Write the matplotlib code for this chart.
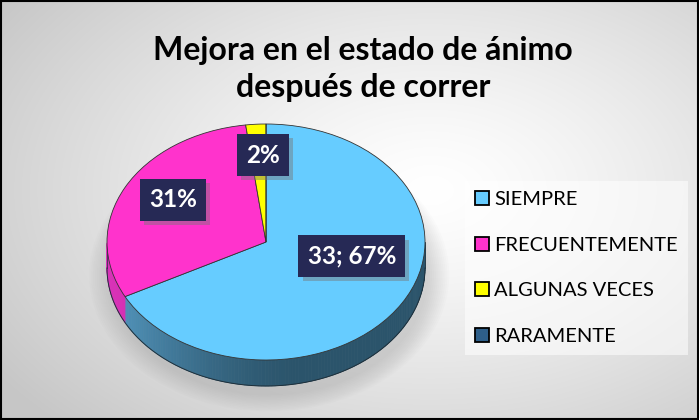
import numpy as np
import matplotlib
matplotlib.use("Agg")
import matplotlib.pyplot as plt
import matplotlib.patheffects as pe
from matplotlib.patches import Polygon, Ellipse, Rectangle, Patch

CATEGORIES = ["SIEMPRE", "FRECUENTEMENTE", "ALGUNAS VECES", "RARAMENTE"]
VALUES = [33, 15, 1, 0]
COLORS = ["#66ccff", "#ff33cc", "#ffff00", "#2e5f8a"]
TITLE = "Mejora en el estado de ánimo\ndespués de correr"

W, H = 699, 420
CX, CY = 266, 242        # pie centre, pixels from top-left
RX, RY = 159, 118        # pie radii, pixels
DEPTH = 26 / RY          # side thickness in pie units

plt.rcParams["font.family"] = ["Lato", "DejaVu Sans"]
fig = plt.figure(figsize=(W / 100, H / 100), dpi=100)

# background gradient
bg = fig.add_axes([0, 0, 1, 1])
yy, xx = np.mgrid[0:H, 0:W]
d = np.sqrt(((xx - 430) / 520.0) ** 2 + ((yy - 190) / 330.0) ** 2)
g = np.clip(1.0 - 0.22 * d ** 1.3, 0.78, 1.0)
bg.imshow(np.dstack([g, g, g]), extent=[0, W, H, 0], aspect="auto")
bg.set_xlim(0, W)
bg.set_ylim(H, 0)
bg.axis("off")

# pie axes: 1 unit = RX px horizontally, RY px vertically
x0, x1, y0, y1 = -1.35, 1.35, -1.7, 1.25
ax = fig.add_axes([(CX + x0 * RX) / W, (H - CY + y0 * RY) / H,
                   (x1 - x0) * RX / W, (y1 - y0) * RY / H])
ax.set_xlim(x0, x1)
ax.set_ylim(y0, y1)
ax.axis("off")

# soft shadow under the pie
for k in range(12):
    s = 1.0 + 0.012 * k
    ax.add_patch(Ellipse((0.02, -DEPTH - 0.06), 2 * s, 2 * s * 1.02,
                         facecolor="#808080", alpha=0.025, lw=0, zorder=1))

total = sum(VALUES)
fracs = [v / total for v in VALUES]
# clockwise from the top, as the pie does
bounds = [90.0]
for f in fracs:
    bounds.append(bounds[-1] - f * 360.0)

base_side = {0: np.array([0.17, 0.33, 0.42]), 1: np.array([0.75, 0.12, 0.62])}
base_light = {0: np.array([0.33, 0.60, 0.76]), 1: np.array([0.85, 0.20, 0.72])}

# side band (visible front half)
for i in range(len(VALUES)):
    if VALUES[i] == 0:
        continue
    th = np.linspace(bounds[i + 1], bounds[i], 200)
    th_mod = np.mod(th, 360)
    th = th[(th_mod >= 180) & (th_mod <= 360)]
    for j in range(len(th) - 1):
        t0, t1 = np.deg2rad(th[j]), np.deg2rad(th[j + 1])
        m = np.clip((-np.cos((t0 + t1) / 2) + 0.2) / 1.2, 0, 1) ** 1.5
        col = (base_side.get(i, base_side[0]) * (1 - m)
               + base_light.get(i, base_light[0]) * m)
        ax.add_patch(Polygon([(np.cos(t0), np.sin(t0)), (np.cos(t1), np.sin(t1)),
                              (np.cos(t1), np.sin(t1) - DEPTH),
                              (np.cos(t0), np.sin(t0) - DEPTH)],
                             closed=True, facecolor=col, edgecolor=col,
                             lw=0.5, zorder=2))

# side outline
th = np.deg2rad(np.linspace(180, 360, 200))
ax.plot(np.cos(th), np.sin(th) - DEPTH, color="#1e2f3a", lw=0.7, zorder=3)
ax.plot([-1, -1], [0, -DEPTH], color="#1e2f3a", lw=0.5, zorder=3)
ax.plot([1, 1], [0, -DEPTH], color="#1e2f3a", lw=0.5, zorder=3)

# top face
wedges, _ = ax.pie(VALUES, colors=COLORS, startangle=90, counterclock=False,
                   radius=1, center=(0, 0),
                   wedgeprops=dict(edgecolor="#333333", linewidth=0.6),
                   frame=True)
for w in wedges:
    w.set_zorder(4)
ax.set_aspect("auto")
ax.set_xlim(x0, x1)
ax.set_ylim(y0, y1)
ax.axis("off")

# data labels
LABEL_POS = [(0.54, -0.12), (-0.585, 0.356), (-0.02, 0.737)]
labels = []
for i, v in enumerate(VALUES):
    if v == 0:
        continue
    pct = round(100 * v / total)
    labels.append(f"{v}; {pct}%" if i == 0 else f"{pct}%")
for (lx, ly), txt in zip(LABEL_POS, labels):
    t = ax.text(lx, ly, txt, ha="center", va="center", fontsize=17.5,
                fontweight="bold", color="white",
                bbox=dict(boxstyle="square,pad=0.38", fc="#262955", ec="none"),
                zorder=6)
    t.get_bbox_patch().set_path_effects([
        pe.SimplePatchShadow(offset=(3, -3), shadow_rgbFace="#777777", alpha=0.45),
        pe.Normal()])

# title
fig.text(363 / W, 1 - 69 / H, TITLE, ha="center", va="center",
         fontsize=23, fontweight="bold", color="black", linespacing=1.3)

# legend
handles = [Patch(facecolor=c, edgecolor="black", lw=1.3) for c in COLORS]
leg = fig.legend(handles, CATEGORIES, loc="center left",
                 bbox_to_anchor=(465 / W, 1 - 268 / H), frameon=True,
                 fontsize=14.5, handlelength=0.7, handleheight=0.7,
                 handletextpad=0.25, labelspacing=1.42, borderpad=0.5,
                 borderaxespad=0, fancybox=False)
leg.get_frame().set_facecolor("white")
leg.get_frame().set_alpha(0.55)
leg.get_frame().set_edgecolor("none")

# outer border
fig.patches.append(Rectangle((0.001, 0.002), 0.997, 0.996, transform=fig.transFigure,
                             fill=False, edgecolor="black", lw=1.5))

fig.savefig("out.png", dpi=100)
